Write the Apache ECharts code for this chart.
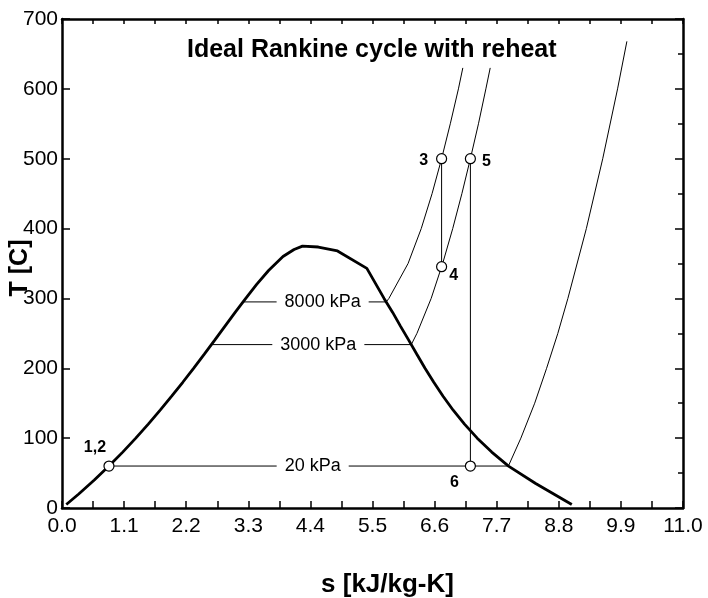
<!DOCTYPE html>
<html>
<head>
<meta charset="utf-8">
<script src="https://cdn.jsdelivr.net/npm/echarts@6/dist/echarts.min.js"></script>
<style>
  html, body { margin: 0; padding: 0; background: #fff; }
  #container { width: 708px; height: 598px; }
</style>
</head>
<body>
<div id="container"></div>
<script>
var FONT = 'Liberation Sans, Arial, Helvetica, sans-serif';

// saturation dome, [s kJ/kg-K, T C]
var dome = [
  [0.076, 5], [0.2965, 20], [0.5724, 40], [0.8312, 60], [1.0754, 80], [1.3069, 100],
  [1.5279, 120], [1.7391, 140], [1.9426, 160], [2.1392, 180], [2.3305, 200],
  [2.5177, 220], [2.702, 240], [2.8844, 260], [3.0668, 280], [3.2548, 300],
  [3.448, 320], [3.6594, 340], [3.9147, 360], [4.1106, 370], [4.26, 374.8],
  [4.54, 373.6], [4.88, 368], [5.40, 343], [5.7045, 300], [5.8571, 280],
  [5.9975, 260], [6.1437, 240], [6.2854, 220], [6.4302, 200], [6.5857, 180],
  [6.7502, 160], [6.9294, 140], [7.1296, 120], [7.3549, 100], [7.6122, 80],
  [7.9094, 60], [8.39, 35], [9.03, 5]
];

// isobars
var p8000 = [
  [3.2068, 295], [5.7432, 295], [5.7906, 300], [6.1301, 350], [6.3634, 400],
  [6.5551, 450], [6.724, 500], [6.8778, 550], [7.0221, 600], [7.10, 630]
];
var p3000 = [
  [2.6456, 233.9], [6.1869, 233.9], [6.2872, 250], [6.539, 300], [6.7428, 350],
  [6.9212, 400], [7.0834, 450], [7.2338, 500], [7.3768, 550], [7.5085, 600], [7.585, 630]
];
var p20 = [
  [0.832, 60.06], [7.9073, 60.06], [8.128, 100], [8.373, 150], [8.584, 200],
  [8.783, 250], [8.961, 300], [9.288, 400], [9.578, 500], [9.841, 600], [10.006, 668]
];
var isobarNames = ['8000 kPa', '3000 kPa', '20 kPa'];

// cycle state points
var stateNames = ['1,2', '3', '4', '5', '6'];
var stateS = [0.832, 6.724, 6.724, 7.234, 7.234];
var stateT = [60.06, 500, 345.4, 500, 60.06];

var stateLabelOffset = [[-14, -18], [-18, 2], [12, 9], [16, 3], [-16, 17]];
var isobarLabelOffset = [8, 7, 4];

function thinLine(data) {
  return {
    type: 'line', data: data, symbol: 'none', silent: true, z: 2,
    lineStyle: { color: '#000', width: 1 }
  };
}

var isobars = [p8000, p3000, p20];
var isoLabelData = isobars.map(function (p, i) {
  return {
    name: isobarNames[i],
    value: [(p[0][0] + p[1][0]) / 2, p[0][1]],
    label: { offset: [isobarLabelOffset[i], 0] }
  };
});

var stateData = stateNames.map(function (n, i) {
  return { name: n, value: [stateS[i], stateT[i]], label: { offset: stateLabelOffset[i] } };
});

var dom = document.getElementById('container');
var myChart = echarts.init(dom, null, { renderer: 'canvas' });

var axisLineStyle = { show: true, onZero: false, lineStyle: { color: '#000', width: 2.5 } };

var option = {
  animation: false,
  backgroundColor: '#fff',
  textStyle: { fontFamily: FONT },
  title: {
    text: 'Ideal Rankine cycle with reheat',
    left: 187, top: 38, padding: 0,
    textStyle: { fontFamily: FONT, fontSize: 25, fontWeight: 'bold', color: '#000' }
  },
  grid: { left: 62, right: 25, top: 19, bottom: 90, containLabel: false, outerBoundsMode: 'none' },
  xAxis: [{
    type: 'value', min: 0, max: 11, interval: 1.1, position: 'bottom',
    axisLine: axisLineStyle,
    axisTick: { inside: true, length: 7, lineStyle: { color: '#000', width: 1.5 } },
    minorTick: { show: true, splitNumber: 2, length: 7, lineStyle: { color: '#000', width: 1.5 } },
    splitLine: { show: false },
    axisLabel: {
      color: '#000', fontSize: 21, fontFamily: FONT, margin: 8,
      formatter: function (v) { return v.toFixed(1); }
    },
    name: 's [kJ/kg-K]', nameLocation: 'middle', nameGap: 64, nameMoveOverlap: false,
    nameTextStyle: { color: '#000', fontSize: 26, fontWeight: 'bold', fontFamily: FONT, padding: [0, 0, 0, 30] }
  }, {
    type: 'value', min: 0, max: 11, interval: 1.1, position: 'top',
    axisLine: axisLineStyle,
    axisTick: { inside: true, length: 5, lineStyle: { color: '#000', width: 1.5 } },
    minorTick: { show: true, splitNumber: 2, length: 5, lineStyle: { color: '#000', width: 1.5 } },
    splitLine: { show: false },
    axisLabel: { show: false }
  }],
  yAxis: [{
    type: 'value', min: 0, max: 700, interval: 100, position: 'left',
    axisLine: axisLineStyle,
    axisTick: { inside: true, length: 8, lineStyle: { color: '#000', width: 1.5 } },
    splitLine: { show: false },
    axisLabel: { color: '#000', fontSize: 21, fontFamily: FONT, margin: 4 },
    name: 'T [C]', nameLocation: 'middle', nameGap: 29, nameRotate: 90, nameMoveOverlap: false,
    nameTextStyle: { color: '#000', fontSize: 25, fontWeight: 'bold', fontFamily: FONT, padding: [0, 9, 0, 0] }
  }, {
    type: 'value', min: 0, max: 700, interval: 100, position: 'right',
    axisLine: axisLineStyle,
    axisTick: { inside: true, length: 8, lineStyle: { color: '#000', width: 1.5 } },
    minorTick: { show: true, splitNumber: 2, length: 5, lineStyle: { color: '#000', width: 1.5 } },
    splitLine: { show: false },
    axisLabel: { show: false }
  }],
  series: [
    {
      type: 'line', data: dome, symbol: 'none', silent: true, z: 3,
      lineStyle: { color: '#000', width: 2.8 }
    },
    thinLine(p8000),
    thinLine(p3000),
    thinLine(p20),
    thinLine([[stateS[1], stateT[1]], [stateS[2], stateT[2]]]),
    thinLine([[stateS[3], stateT[3]], [stateS[4], stateT[4]]]),
    {
      type: 'scatter', data: isoLabelData, symbolSize: 0, silent: true, z: 4,
      itemStyle: { opacity: 1 },
      label: {
        show: true, position: 'inside', formatter: '{b}',
        color: '#000', fontSize: 18, fontFamily: FONT,
        backgroundColor: '#fff', padding: [2, 8]
      }
    },
    {
      type: 'scatter', data: stateData, symbol: 'circle', symbolSize: 10, silent: true, z: 5,
      itemStyle: { color: '#fff', borderColor: '#000', borderWidth: 1.2, opacity: 1 },
      label: {
        show: true, position: 'inside', formatter: '{b}',
        color: '#000', fontSize: 16, fontWeight: 'bold', fontFamily: FONT
      }
    }
  ]
};

myChart.setOption(option);
window.addEventListener('resize', myChart.resize);
</script>
</body>
</html>
